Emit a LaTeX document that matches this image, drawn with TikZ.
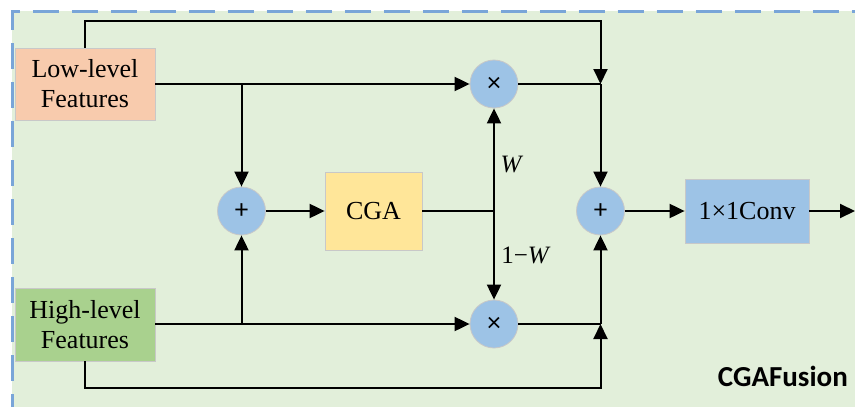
\documentclass[tikz,border=0pt]{standalone}
\usepackage{fontspec}
\setmainfont{Liberation Serif}
\newfontfamily\serifx{Liberation Serif}
\newfontfamily\carlito{Carlito}
\usetikzlibrary{arrows.meta}
\definecolor{bgc}{HTML}{E2EFDA}
\definecolor{dashc}{HTML}{79A5D8}
\definecolor{lowc}{HTML}{F8CBAD}
\definecolor{highc}{HTML}{A9D18E}
\definecolor{cgac}{HTML}{FFE699}
\definecolor{bluec}{HTML}{9DC3E6}
\definecolor{edgec}{HTML}{C8C8C8}
\begin{document}
\begin{tikzpicture}[x=1pt,y=-1pt,
  box/.style={draw=edgec,line width=0.8pt,inner sep=0pt,align=center,
    font=\serifx\fontsize{26}{30}\selectfont},
  opnode/.style={circle,draw=edgec,line width=0.8pt,fill=bluec,minimum size=48pt,
    inner sep=0pt,font=\carlito\fontsize{27}{27}\selectfont},
  conn/.style={line width=2pt,line join=miter},
  arr/.style={conn,-{Triangle[length=15pt,width=14pt]}},
  lbl/.style={font=\serifx\fontsize{25}{25}\selectfont,inner sep=0pt}]
\useasboundingbox (0,0) rectangle (855,407);
\clip (0,0) rectangle (855,407);
\fill[bgc] (12,11) rectangle (880,430);
\draw[dashc,line width=3pt,dash pattern=on 26pt off 13pt,dash phase=-10pt] (12,430) -- (12,11.5) -- (880,11.5);

\node[box,fill=lowc,minimum width=140pt,minimum height=72pt] (low) at (85,84) {Low-level\\Features};
\node[box,fill=highc,minimum width=140pt,minimum height=73pt] (high) at (85,324.5) {High-level\\Features};
\node[opnode] (p1) at (241.5,211) {+};
\node[box,fill=cgac,minimum width=97pt,minimum height=78pt] (cga) at (373.5,211) {CGA};
\node[opnode] (m1) at (494,84) {×};
\node[opnode] (m2) at (494,324) {×};
\node[opnode] (p2) at (600.5,211) {+};
\node[box,fill=bluec,minimum width=124pt,minimum height=64pt] (conv) at (747,211) {1×1Conv};

\coordinate (lj) at (241.5,84);
\coordinate (hj) at (241.5,324);
\coordinate (wj) at (494,211);
\coordinate (tj) at (600.5,84);
\coordinate (bj) at (600.5,324);
\coordinate (out) at (855,211);

\node[lbl,anchor=center] (w) at (512,165) {\textit{W}};
\node[lbl,anchor=center] (w1) at (526,255) {1−\textit{W}};
\node[inner sep=0pt,anchor=base east,font=\carlito\bfseries\fontsize{29}{29}\selectfont] (title) at (848,386) {CGAFusion};

% top bypass
\draw[arr] (low.north) -- (85,21) -- (600.5,21) -- (tj);
\draw[arr] (low.east |- lj) -- (m1.west);
\draw[arr] (lj) -- (p1.north);
\draw[conn] (m1.east) -- (tj);
\draw[arr] (tj) -- (p2.north);
% bottom
\draw[arr] (high.east |- hj) -- (m2.west);
\draw[arr] (hj) -- (p1.south);
\draw[arr] (high.south) -- (85,388) -- (600.5,388) -- (bj);
\draw[conn] (m2.east) -- (bj);
\draw[arr] (bj) -- (p2.south);
% middle
\draw[arr] (p1.east) -- (cga.west);
\draw[conn] (cga.east) -- (wj);
\draw[arr] (wj) -- (m1.south);
\draw[arr] (wj) -- (m2.north);
\draw[arr] (p2.east) -- (conv.west);
\draw[arr] (conv.east) -- (out);
\end{tikzpicture}
\end{document}
